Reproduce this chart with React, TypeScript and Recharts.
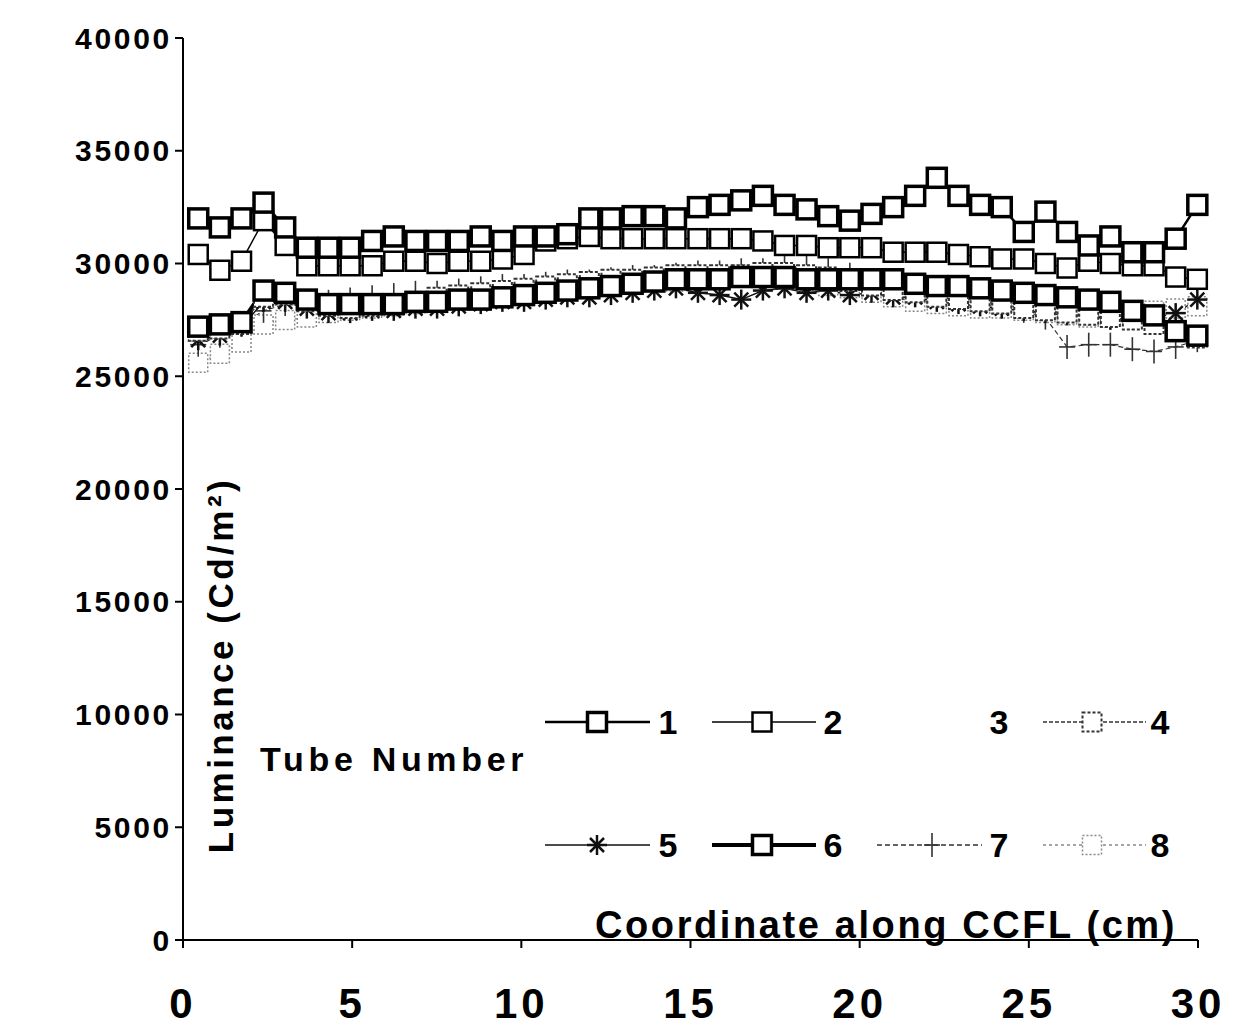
import React from 'react';
import { LineChart, Line, XAxis, YAxis, Legend, Customized } from 'recharts';

const FONT = '"Liberation Sans", Arial, Helvetica, sans-serif';

// position along the lamp (cm)
const coord = [
  0.45, 1.09, 1.73, 2.38, 3.02, 3.66, 4.3, 4.94, 5.59, 6.23, 6.87, 7.51, 8.15, 8.8, 9.44, 10.08,
  10.72, 11.36, 12.01, 12.65, 13.29, 13.93, 14.57, 15.22, 15.86, 16.5, 17.14, 17.78, 18.43, 19.07,
  19.71, 20.35, 20.99, 21.64, 22.28, 22.92, 23.56, 24.2, 24.85, 25.49, 26.13, 26.77, 27.41, 28.06,
  28.7, 29.34, 29.98,
];

const tube1 = [
  32000, 31600, 32000, 32700, 31600, 30700, 30700, 30700, 31000, 31200, 31000, 31000, 31000, 31200,
  31000, 31200, 31200, 31300, 32000, 32000, 32100, 32100, 32000, 32500, 32600, 32800, 33000, 32600,
  32400, 32100, 31900, 32200, 32500, 33000, 33800, 33000, 32600, 32500, 31400, 32300, 31400, 30800,
  31200, 30500, 30500, 31100, 32600,
];
const tube2 = [
  30400, 29700, 30100, 31900, 30800, 29900, 29900, 29900, 29900, 30100, 30100, 30000, 30100, 30100,
  30200, 30400, 31000, 31100, 31200, 31100, 31100, 31100, 31100, 31100, 31100, 31100, 31000, 30800,
  30800, 30700, 30700, 30700, 30500, 30500, 30500, 30400, 30300, 30200, 30200, 30000, 29800, 30100,
  30000, 29900, 29900, 29400, 29300,
];
const tube4 = [
  27000, 27100, 27300, 28500, 28600, 28300, 28100, 28000, 28100, 28200, 28300, 28500, 28600, 28700,
  28800, 28900, 29000, 29100, 29200, 29300, 29300, 29400, 29500, 29500, 29500, 29500, 29600, 29600,
  29500, 29400, 29200, 29000, 28800, 28700, 28500, 28400, 28300, 28200, 28000, 27900, 27800, 27700,
  27600, 27500, 27300, 27000, 26700,
];
const tube5 = [
  26600, 26800, 27200, 28300, 28300, 28000, 27800, 27800, 27900, 27900, 28000, 28000, 28100, 28200,
  28300, 28300, 28400, 28500, 28500, 28600, 28700, 28800, 28900, 28700, 28600, 28400, 28800, 28900,
  28700, 28800, 28600, 28700, 28500, 28500, 28300, 28200, 28100, 28000, 27900, 27800, 27700, 27700,
  27500, 27500, 27600, 27800, 28400,
];
const tube6 = [
  27200, 27300, 27400, 28800, 28700, 28400, 28200, 28200, 28200, 28200, 28300, 28300, 28400, 28400,
  28500, 28600, 28700, 28800, 28900, 29000, 29100, 29200, 29300, 29300, 29300, 29400, 29400, 29400,
  29300, 29300, 29300, 29300, 29300, 29100, 29000, 29000, 28900, 28800, 28700, 28600, 28500, 28400,
  28300, 27900, 27700, 27000, 26800,
];
const tube7 = [
  26400, 26800, 27300, 27900, 28200, 28200, 28300, 28400, 28500, 28600, 28700, 28700, 28800, 28900,
  29000, 29000, 29100, 29200, 29200, 29300, 29400, 29400, 29500, 29600, 29600, 29700, 29700, 29800,
  29800, 29700, 29500, 29200, 29000, 28800, 28700, 28500, 28300, 28100, 27900, 27600, 26300, 26400,
  26400, 26200, 26100, 26300, 26600,
];
const tube8 = [
  25600, 26000, 26500, 27300, 27500, 27600, 27800, 27900, 28000, 28100, 28200, 28300, 28400, 28500,
  28600, 28700, 28800, 28900, 29000, 29000, 29100, 29200, 29200, 29300, 29400, 29500, 29400, 29300,
  29200, 29000, 28900, 28700, 28500, 28300, 28200, 28100, 28000, 28000, 27900, 27800, 27700, 27600,
  27700, 27800, 27900, 28000, 28100,
];

const yTicks = [0, 5000, 10000, 15000, 20000, 25000, 30000, 35000, 40000];
const xTicks = [0, 5, 10, 15, 20, 25, 30];

const data = coord.map((x, i) => ({
  x,
  t1: tube1[i],
  t2: tube2[i],
  t4: tube4[i],
  t5: tube5[i],
  t6: tube6[i],
  t7: tube7[i],
  t8: tube8[i],
}));

type Marker = 'square' | 'asterisk' | 'plus' | 'none';
type Series = {
  key: string;
  label: string;
  stroke: string;
  width: number;
  dash?: string;
  marker: Marker;
  markerStroke?: number;
  markerDash?: string;
  hidden?: boolean;
};

const series: Series[] = [
  { key: 't1', label: '1', stroke: '#000', width: 2.5, marker: 'square', markerStroke: 3.5 },
  { key: 't2', label: '2', stroke: '#000', width: 1.5, marker: 'square', markerStroke: 2.5 },
  { key: 't3', label: '3', stroke: 'none', width: 0, marker: 'none', hidden: true },
  { key: 't4', label: '4', stroke: '#333', width: 1.5, dash: '4 2', marker: 'square', markerStroke: 2, markerDash: '3 2' },
  { key: 't5', label: '5', stroke: '#111', width: 1.5, marker: 'asterisk' },
  { key: 't6', label: '6', stroke: '#000', width: 4, marker: 'square', markerStroke: 3.5 },
  { key: 't7', label: '7', stroke: '#333', width: 1.2, dash: '5 3', marker: 'plus' },
  { key: 't8', label: '8', stroke: '#888', width: 1.2, dash: '3 3', marker: 'square', markerStroke: 1.5, markerDash: '2 2' },
];

const drawOrder = ['t8', 't7', 't5', 't4', 't6', 't2', 't1'];

const markerShape = (s: Series, cx: number, cy: number, key?: string) => {
  if (s.marker === 'square') {
    return (
      <rect key={key} x={cx - 9.5} y={cy - 9.5} width={19} height={19} fill="#fff"
        stroke={s.stroke} strokeWidth={s.markerStroke} strokeDasharray={s.markerDash} />
    );
  }
  if (s.marker === 'asterisk') {
    const r = 10;
    const d = r * 0.7;
    return (
      <g key={key} stroke={s.stroke} strokeWidth={2.5}>
        <line x1={cx - r} y1={cy} x2={cx + r} y2={cy} />
        <line x1={cx} y1={cy - r} x2={cx} y2={cy + r} />
        <line x1={cx - d} y1={cy - d} x2={cx + d} y2={cy + d} />
        <line x1={cx - d} y1={cy + d} x2={cx + d} y2={cy - d} />
      </g>
    );
  }
  if (s.marker === 'plus') {
    return (
      <g key={key} stroke={s.stroke} strokeWidth={1.6}>
        <line x1={cx - 8} y1={cy} x2={cx + 8} y2={cy} />
        <line x1={cx} y1={cy - 12} x2={cx} y2={cy + 12} />
      </g>
    );
  }
  return <g key={key} />;
};

const dotFor = (s: Series) => (p: any) => {
  const k = `${s.key}-${p.index}`;
  if (p.cx == null || p.cy == null) return <g key={k} />;
  return markerShape(s, p.cx, p.cy, k);
};

// legend slots: [line start, line end, marker x, label x, row y]
const legendSlots: Record<string, number[]> = {
  t1: [545, 650, 597, 668, 722],
  t2: [712, 816, 762, 833, 722],
  t3: [877, 982, 932, 999, 722],
  t4: [1043, 1146, 1092, 1160, 722],
  t5: [545, 650, 597, 668, 845],
  t6: [712, 816, 762, 833, 845],
  t7: [877, 982, 932, 999, 845],
  t8: [1043, 1146, 1092, 1160, 845],
};

const TubeLegend = () => (
  <svg width={1250} height={1026} style={{ position: 'absolute', left: 0, top: 0 }}>
    {series.map((s) => {
      const [x1, x2, mx, lx, y] = legendSlots[s.key];
      return (
        <g key={s.key}>
          {!s.hidden && (
            <line x1={x1} y1={y} x2={x2} y2={y} stroke={s.stroke} strokeWidth={Math.max(s.width, 1.5)}
              strokeDasharray={s.dash} />
          )}
          {!s.hidden && markerShape(s, mx, y)}
          <text x={lx} y={y + 12} textAnchor="middle" fontFamily={FONT} fontWeight="bold" fontSize={34}
            fill="#000">
            {s.label}
          </text>
        </g>
      );
    })}
  </svg>
);

const Titles = () => (
  <g fontFamily={FONT} fontWeight="bold" fill="#000">
    <text x={233} y={665} transform="rotate(-90 233 665)" textAnchor="middle" fontSize={35}
      letterSpacing={3.5}>
      Luminance (Cd/m²)
    </text>
    <text x={260} y={771} fontSize={34} letterSpacing={4.7}>
      Tube Number
    </text>
    <text x={595} y={938} fontSize={38} letterSpacing={2.6}>
      Coordinate along CCFL (cm)
    </text>
  </g>
);

export default function App() {
  return (
    <div style={{ position: 'absolute', left: 0, top: 0, width: 1250, height: 1026, background: '#fff' }}>
      <LineChart width={1250} height={1026} data={data} margin={{ top: 38, right: 52, bottom: 0, left: 0 }}>
        <XAxis
          dataKey="x"
          type="number"
          domain={[0, 30]}
          ticks={xTicks}
          height={86}
          stroke="#000"
          strokeWidth={2}
          tickSize={8}
          tickMargin={40}
          tick={{ fontFamily: FONT, fontWeight: 'bold', fontSize: 42, fill: '#000', letterSpacing: 4 }}
        />
        <YAxis
          yAxisId="left"
          domain={[0, 40000]}
          ticks={yTicks}
          width={183}
          stroke="#000"
          strokeWidth={2}
          tickSize={8}
          tickMargin={3}
          tick={{ fontFamily: FONT, fontWeight: 'bold', fontSize: 30, fill: '#000', letterSpacing: 2.7 }}
        />
        <YAxis yAxisId="right" orientation="right" domain={[0, 40000]} width={0} tick={false} tickLine={false}
          stroke="#000" strokeWidth={2} />
        {drawOrder.map((k) => {
          const s = series.find((d) => d.key === k)!;
          return (
            <Line
              key={k}
              yAxisId="left"
              type="linear"
              dataKey={k}
              stroke={s.stroke}
              strokeWidth={s.width}
              strokeDasharray={s.dash}
              dot={dotFor(s)}
              activeDot={false}
              isAnimationActive={false}
            />
          );
        })}
        <Customized component={<Titles />} />
        <Legend
          layout="horizontal"
          verticalAlign="middle"
          align="center"
          content={() => <TubeLegend />}
          wrapperStyle={{ position: 'absolute', left: 0, top: 0, width: 1250, height: 1026, pointerEvents: 'none' }}
        />
      </LineChart>
    </div>
  );
}
